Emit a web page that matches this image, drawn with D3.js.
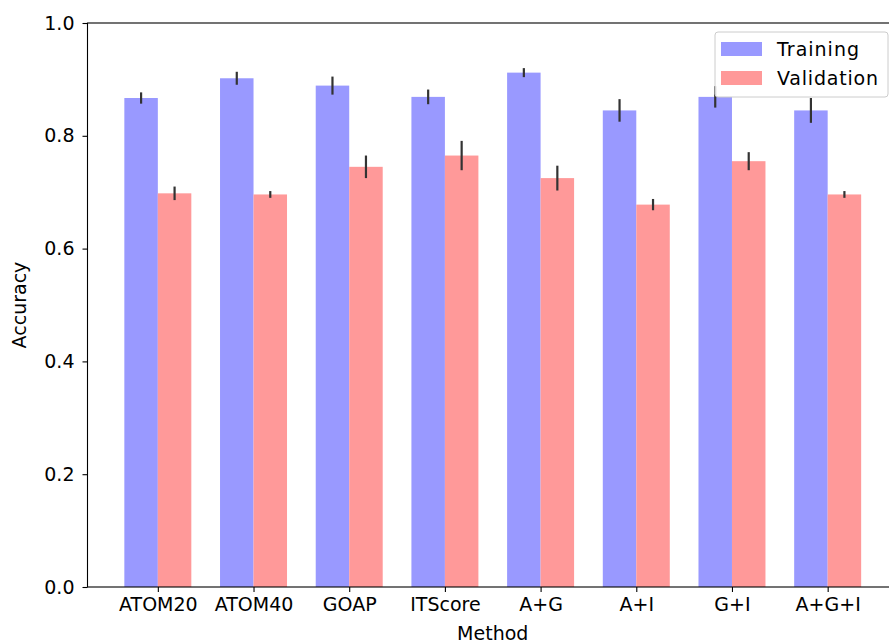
<!DOCTYPE html>
<html><head><meta charset="utf-8">
<script src="https://cdn.jsdelivr.net/npm/d3@7"></script>
<style>body{margin:0;background:#fff}svg{display:block}text{font-family:"DejaVu Sans",sans-serif;fill:#000}</style>
</head><body>
<script>
const methods = ["ATOM20","ATOM40","GOAP","ITScore","A+G","A+I","G+I","A+G+I"];
const trainAcc = [0.867,0.902,0.889,0.869,0.912,0.845,0.869,0.845];
const trainErr = [0.010,0.0115,0.016,0.013,0.008,0.020,0.019,0.022];
const valAcc = [0.698,0.696,0.745,0.765,0.725,0.678,0.755,0.696];
const valErr = [0.012,0.006,0.020,0.026,0.022,0.010,0.016,0.006];
const yTicks = [0.0,0.2,0.4,0.6,0.8,1.0];
const seriesNames = ["Training","Validation"];

const W=889,H=644;
const barW=0.35;
const svg=d3.select("body").append("svg").attr("width",W).attr("height",H);
const x=d3.scaleLinear().domain([-0.56,7.91]).range([87.5,898]);
const y=d3.scaleLinear().domain([0,1]).range([587,23]);
const colors=["#9999ff","#ff9999"];
const fs=19;

const series=[{vals:trainAcc,err:trainErr,off:0},{vals:valAcc,err:valErr,off:barW}];
series.forEach((s,k)=>{
  svg.append("g").selectAll("rect").data(s.vals).join("rect")
    .attr("x",(d,i)=>x(i+s.off-barW/2)).attr("width",x(barW)-x(0))
    .attr("y",d=>y(d)).attr("height",d=>y(0)-y(d)).attr("fill",colors[k]);
});
series.forEach((s,k)=>{
  svg.append("g").selectAll("line").data(s.vals).join("line")
    .attr("x1",(d,i)=>x(i+s.off)).attr("x2",(d,i)=>x(i+s.off))
    .attr("y1",(d,i)=>y(d-s.err[i])).attr("y2",(d,i)=>y(d+s.err[i]))
    .attr("stroke","#333").attr("stroke-width",2.2);
});

// axes
const yAxis=d3.axisLeft(y).tickValues(yTicks).tickFormat(d3.format(".1f")).tickSizeOuter(0).tickSize(5).tickPadding(8);
const gy=svg.append("g").attr("transform",`translate(${x(-0.56)},0)`).call(yAxis);
const xAxis=d3.axisBottom(x).tickValues(methods.map((m,i)=>i+barW/2)).tickFormat((d,i)=>methods[i]).tickSizeOuter(0).tickSize(5).tickPadding(6);
const gx=svg.append("g").attr("transform",`translate(0,${y(0)})`).call(xAxis);
[gx,gy].forEach(g=>{g.select(".domain").remove();g.selectAll("line").attr("stroke","#000").attr("stroke-width",1.1);
  g.selectAll("text").attr("font-size",fs).attr("fill","#000").style("font-family","DejaVu Sans");});
// spines
const sp=svg.append("g").attr("stroke","#000").attr("stroke-width",1.1).attr("fill","none");
sp.append("rect").attr("x",x(-0.56)).attr("y",y(1)).attr("width",x(7.91)-x(-0.56)).attr("height",y(0)-y(1));

// axis labels
svg.append("text").attr("x",(x(-0.56)+x(7.91))/2).attr("y",640).attr("text-anchor","middle").attr("font-size",fs).text("Method");
svg.append("text").attr("transform",`translate(26,${(y(0)+y(1))/2}) rotate(-90)`).attr("text-anchor","middle").attr("font-size",fs).text("Accuracy");

// legend
const lg=svg.append("g");
lg.append("rect").attr("x",715).attr("y",32).attr("width",173).attr("height",65).attr("rx",3)
  .attr("fill","#fff").attr("fill-opacity",0.8).attr("stroke","#ccc").attr("stroke-width",1);
seriesNames.forEach((n,k)=>{
  lg.append("rect").attr("x",721).attr("y",42+k*29).attr("width",41).attr("height",14).attr("fill",colors[k]);
  lg.append("text").attr("x",777).attr("y",56+k*29).attr("font-size",fs).attr("textLength",k===0?82:101).text(n);
});
</script>
</body></html>
